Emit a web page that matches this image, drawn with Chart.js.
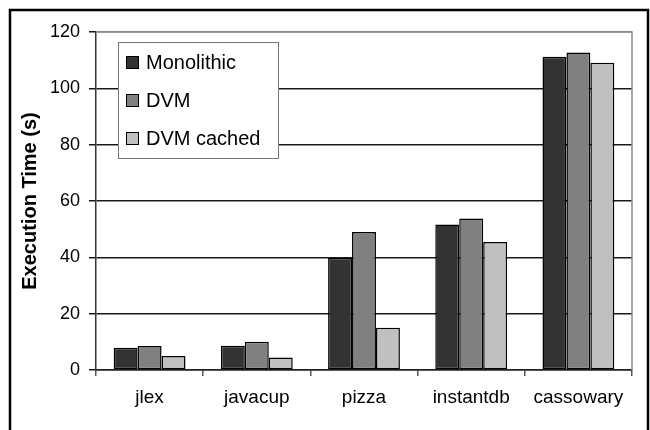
<!DOCTYPE html>
<html>
<head>
<meta charset="utf-8">
<script src="https://cdn.jsdelivr.net/npm/chart.js@4"></script>
<style>
  body { margin: 0; background: #fff; }
  #wrap { width: 650px; height: 430px; }
</style>
</head>
<body>
<div id="wrap"><canvas id="myChart"></canvas></div>
<script>
const categories = ['jlex', 'javacup', 'pizza', 'instantdb', 'cassowary'];
const monolithic = [7.9, 8.6, 39.8, 51.7, 111.2];
const dvm = [8.5, 10.0, 49.0, 53.8, 112.7];
const dvmCached = [5.0, 4.4, 15.0, 45.4, 109.1];
const yTicks = [0, 20, 40, 60, 80, 100, 120];

const FONT = "Arial, 'Liberation Sans', sans-serif";

// frame, gray plot border and the boxed legend
const extras = {
  id: 'extras',
  beforeDatasetsDraw(chart) {
    const c = chart.ctx;
    const a = chart.chartArea;
    c.save();
    c.strokeStyle = '#8a8a8a';
    c.lineWidth = 1.5;
    c.beginPath();
    c.moveTo(a.left, a.top);
    c.lineTo(a.right, a.top);
    c.lineTo(a.right, a.bottom);
    c.stroke();
    c.restore();
  },
  afterDraw(chart) {
    const c = chart.ctx;
    c.save();
    c.strokeStyle = '#000';
    c.lineWidth = 2.5;
    c.strokeRect(10, 10, 638, 440);

    // legend
    c.fillStyle = '#fff';
    c.fillRect(118, 42, 160, 116);
    c.strokeStyle = '#777';
    c.lineWidth = 1;
    c.strokeRect(118.5, 42.5, 160, 116);
    c.font = '20px ' + FONT;
    c.textBaseline = 'middle';
    chart.data.datasets.forEach((ds, i) => {
      const y = 62 + i * 38;
      c.fillStyle = ds.backgroundColor;
      c.fillRect(126, y - 6, 13, 13);
      c.strokeStyle = '#000';
      c.strokeRect(126.5, y - 5.5, 12, 12);
      c.fillStyle = '#000';
      c.fillText(ds.label, 146, y + 1);
    });
    c.restore();
  }
};

const ctx = document.getElementById('myChart').getContext('2d');
const myChart = new Chart(ctx, {
  type: 'bar',
  data: {
    labels: categories,
    datasets: [
      { label: 'Monolithic', data: monolithic, backgroundColor: '#333333' },
      { label: 'DVM', data: dvm, backgroundColor: '#808080' },
      { label: 'DVM cached', data: dvmCached, backgroundColor: '#c0c0c0' }
    ].map(d => Object.assign(d, {
      borderColor: '#000',
      borderWidth: 1.5,
      borderSkipped: false,
      categoryPercentage: 0.67,
      barPercentage: 1.0
    }))
  },
  options: {
    responsive: true,
    maintainAspectRatio: false,
    animation: false,
    layout: { padding: { left: 10, top: 32, right: 18, bottom: 0 } },
    plugins: {
      legend: { display: false },
      tooltip: { enabled: false }
    },
    scales: {
      x: {
        afterFit: s => { s.height = 60; },
        grid: {
          offset: true,
          drawOnChartArea: false,
          drawTicks: true,
          tickLength: 6,
          tickColor: '#555',
          lineWidth: 1.5
        },
        border: { color: '#222', width: 1.5 },
        ticks: { color: '#000', font: { family: FONT, size: 19 }, padding: 10 }
      },
      y: {
        min: 0,
        max: 120,
        afterFit: s => { s.width = 86; },
        afterBuildTicks: s => { s.ticks = yTicks.map(v => ({ value: v })); },
        grid: {
          color: ctx => ctx.tick && ctx.tick.value === 120 ? '#8a8a8a' : '#1a1a1a',
          tickColor: '#1a1a1a',
          lineWidth: 1.5,
          tickLength: 7
        },
        border: { color: '#333', width: 1.5 },
        ticks: { color: '#000', font: { family: FONT, size: 18 }, padding: 9 },
        title: {
          display: true,
          text: 'Execution Time (s)',
          color: '#000',
          font: { family: FONT, size: 20, weight: 'bold' },
          padding: { top: 8, bottom: 0 }
        }
      }
    }
  },
  plugins: [extras]
});
</script>
</body>
</html>
